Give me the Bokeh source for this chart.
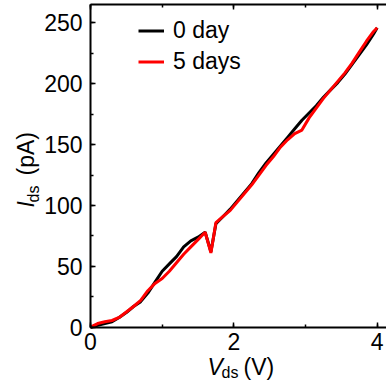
import math
from bokeh.plotting import figure
from bokeh.models import (LinearAxis, SingleIntervalTicker, Label, Legend,
                          LegendItem, Range1d)
from bokeh.embed import file_html
from bokeh.resources import INLINE

# ---- data ----
v_ds = [0, 0.1, 0.2, 0.3, 0.4, 0.5, 0.6, 0.7, 0.8, 0.9, 1.0, 1.1, 1.2, 1.3,
        1.4, 1.5, 1.6, 1.68, 1.75, 1.85, 1.95, 2.05, 2.15, 2.25, 2.35, 2.45,
        2.55, 2.65, 2.75, 2.85, 2.95, 3.05, 3.15, 3.25, 3.35, 3.45, 3.55,
        3.65, 3.75, 3.85, 3.95, 4.0]
i_day0 = [0, 1.5, 3, 4.5, 8, 12, 17, 21, 28, 37, 46, 52, 58, 66, 71, 74, 78,
          62, 85, 91, 97, 104, 111, 118, 127, 135, 142, 149, 156, 163, 170,
          176, 182, 189, 195, 201, 208, 216, 224, 232, 241, 246]
i_day5 = [0, 3, 4.5, 5.5, 8, 12.5, 17, 22, 30, 36, 40, 46, 53, 60, 66, 72, 78,
          61, 86, 91, 96, 103, 110, 117, 125, 133, 140, 148, 154, 159, 162,
          172, 180, 188, 195, 202, 209, 217, 226, 235, 243, 246]
series_labels = ["0 day", "5 days"]
x_tick_step = 2
y_tick_step = 50
x_axis_max = 4.2
y_axis_max = 265.2

FONT = "Liberation Sans"
FS = "23px"
W, H = 386, 387
# data window covering the whole canvas (axes are pinned inside it)
X0, X1 = -1.2558, 4.1301
Y0, Y1 = -49.55, 268.45

p = figure(width=W, height=H, output_backend="svg", toolbar_location=None,
           x_range=Range1d(X0, X1), y_range=Range1d(Y0, Y1),
           x_axis_location=None, y_axis_location=None,
           min_border=0, min_border_left=0, min_border_right=0,
           min_border_top=0, min_border_bottom=0,
           background_fill_color="white", border_fill_color="white")
p.outline_line_color = None
p.grid.visible = False

def make_axis(step, loc, bounds, labels=True):
    ax = LinearAxis(ticker=SingleIntervalTicker(interval=step, num_minor_ticks=2),
                    fixed_location=loc, bounds=bounds)
    ax.axis_line_width = 2
    ax.axis_line_color = "black"
    ax.major_tick_line_color = "black"
    ax.minor_tick_line_color = "black"
    ax.major_tick_line_width = 1.5
    ax.minor_tick_line_width = 1.5
    ax.major_tick_in = 5
    ax.major_tick_out = 0
    ax.minor_tick_in = 3
    ax.minor_tick_out = 0
    ax.major_label_text_font = FONT
    ax.major_label_text_font_size = FS
    ax.major_label_text_color = "black" if labels else None
    return ax

xaxis = make_axis(x_tick_step, 0, (0, x_axis_max))
xaxis.major_label_standoff = 6
yaxis = make_axis(y_tick_step, 0, (0, y_axis_max))
yaxis.major_label_standoff = 8
top_axis = make_axis(x_tick_step, y_axis_max, (0, x_axis_max), labels=False)
p.add_layout(xaxis, "below")
p.add_layout(yaxis, "left")
p.add_layout(top_axis, "above")

r0 = p.line(v_ds, i_day0, line_color="black", line_width=3)
r5 = p.line(v_ds, i_day5, line_color="#ff0000", line_width=3)

legend = Legend(items=[LegendItem(label=series_labels[0], renderers=[r0]),
                       LegendItem(label=series_labels[1], renderers=[r5])],
                location=(138, 310), orientation="vertical")
legend.border_line_color = None
legend.background_fill_alpha = 0
legend.padding = 0
legend.margin = 0
legend.spacing = -4
legend.glyph_width = 26
legend.glyph_height = 31
legend.label_height = 31
legend.label_standoff = 9
legend.label_text_font = FONT
legend.label_text_font_size = FS
legend.label_text_color = "black"
p.add_layout(legend, "center")

def add_text(txt, px, py, size, italic=False, angle=0.0):
    # px, py: position on the canvas measured from its top-left corner
    lab = Label(x=px, y=H - py, x_units="screen", y_units="screen",
                text=txt, text_font=FONT, text_font_size=size,
                text_color="black",
                text_font_style="italic" if italic else "normal",
                text_align="left", text_baseline="alphabetic", angle=angle)
    p.add_layout(lab)

# x axis title: V_ds (V)
add_text("V", 207, 366, FS, italic=True)
add_text("ds", 221, 372, "16px")
add_text("(V)", 243, 366, FS)
# y axis title: I_ds (pA), rotated
add_text("I", 25, 207, FS, italic=True, angle=math.pi / 2)
add_text("ds", 33, 202, "16px", angle=math.pi / 2)
add_text("(pA)", 25, 175, FS, angle=math.pi / 2)

open("out.html", "w").write(file_html(p, INLINE))
